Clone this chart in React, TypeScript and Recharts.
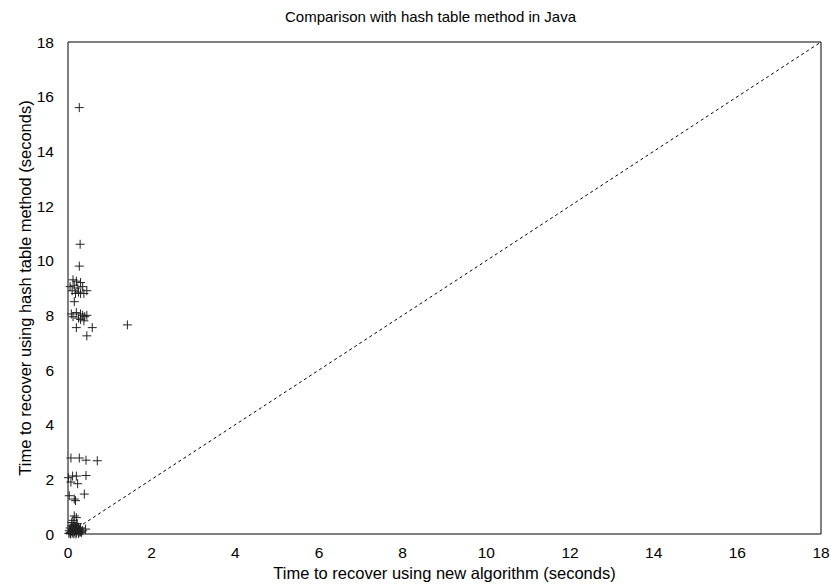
import { ScatterChart, Scatter, XAxis, YAxis, ReferenceLine } from "recharts";

const FONT = "'Liberation Sans', Arial, sans-serif";

const axisTicks = [0, 2, 4, 6, 8, 10, 12, 14, 16, 18];

// y = x reference, drawn dashed
const diagonal = [
  { x: 0, y: 0 },
  { x: 18, y: 18 },
];

// points above 7 seconds on the hash table axis
const upperCluster = [
  { x: 0.27, y: 15.6 }, { x: 0.29, y: 10.6 }, { x: 0.27, y: 9.8 },
  { x: 0.12, y: 9.3 }, { x: 0.2, y: 9.25 }, { x: 0.3, y: 9.2 }, { x: 0.05, y: 9.05 },
  { x: 0.15, y: 9.1 }, { x: 0.22, y: 9.0 }, { x: 0.35, y: 9.05 }, { x: 0.1, y: 8.9 },
  { x: 0.25, y: 8.85 }, { x: 0.3, y: 8.8 }, { x: 0.45, y: 8.9 }, { x: 0.18, y: 8.8 },
  { x: 0.38, y: 8.8 }, { x: 0.15, y: 8.5 },
  { x: 0.08, y: 8.05 }, { x: 0.2, y: 8.1 }, { x: 0.3, y: 8.05 }, { x: 0.35, y: 8.0 },
  { x: 0.12, y: 7.95 }, { x: 0.25, y: 7.9 }, { x: 0.4, y: 7.95 }, { x: 0.45, y: 8.0 },
  { x: 0.3, y: 7.85 }, { x: 0.38, y: 7.8 },
  { x: 0.2, y: 7.55 }, { x: 0.58, y: 7.55 }, { x: 0.45, y: 7.25 }, { x: 1.42, y: 7.65 },
];

// points between 0.5 and 3 seconds
const middleCluster = [
  { x: 0.07, y: 2.78 }, { x: 0.27, y: 2.78 }, { x: 0.43, y: 2.7 }, { x: 0.7, y: 2.68 },
  { x: 0.01, y: 2.06 }, { x: 0.11, y: 2.12 }, { x: 0.2, y: 2.12 }, { x: 0.43, y: 2.14 },
  { x: 0.07, y: 1.9 }, { x: 0.23, y: 1.84 },
  { x: 0.39, y: 1.46 }, { x: 0.03, y: 1.4 }, { x: 0.15, y: 1.28 }, { x: 0.18, y: 1.22 },
  { x: 0.15, y: 0.66 }, { x: 0.2, y: 0.6 }, { x: 0.12, y: 0.5 },
];

// dense group near the origin
const baseCluster = [
  { x: 0.02, y: 0.02 }, { x: 0.05, y: 0.05 }, { x: 0.08, y: 0.1 }, { x: 0.1, y: 0.03 },
  { x: 0.12, y: 0.15 }, { x: 0.15, y: 0.08 }, { x: 0.18, y: 0.2 }, { x: 0.2, y: 0.05 },
  { x: 0.22, y: 0.12 }, { x: 0.25, y: 0.02 }, { x: 0.28, y: 0.18 }, { x: 0.3, y: 0.08 },
  { x: 0.05, y: 0.22 }, { x: 0.08, y: 0.3 }, { x: 0.12, y: 0.28 }, { x: 0.15, y: 0.35 },
  { x: 0.2, y: 0.3 }, { x: 0.25, y: 0.25 }, { x: 0.03, y: 0.12 }, { x: 0.1, y: 0.18 },
  { x: 0.14, y: 0.01 }, { x: 0.17, y: 0.12 }, { x: 0.24, y: 0.15 }, { x: 0.32, y: 0.05 },
  { x: 0.35, y: 0.12 }, { x: 0.42, y: 0.18 }, { x: 0.06, y: 0.0 }, { x: 0.19, y: 0.0 },
  { x: 0.27, y: 0.07 }, { x: 0.11, y: 0.08 }, { x: 0.16, y: 0.24 }, { x: 0.22, y: 0.38 },
  { x: 0.09, y: 0.42 }, { x: 0.13, y: 0.2 }, { x: 0.3, y: 0.22 },
];

const points = [...upperCluster, ...middleCluster, ...baseCluster];

const Plus = (props: any) => {
  const { cx, cy } = props;
  if (cx == null || cy == null) return null;
  return (
    <g stroke="#222" strokeWidth={1}>
      <line x1={cx - 4.5} y1={cy} x2={cx + 4.5} y2={cy} />
      <line x1={cx} y1={cy - 4.5} x2={cx} y2={cy + 4.5} />
    </g>
  );
};

const NoDot = () => <g />;

const tickStyle = { fontSize: 15.5, fill: "#000", fontFamily: FONT };
const labelStyle = { fontSize: 16.5, fill: "#000", fontFamily: FONT };

export default function App() {
  return (
    <div style={{ position: "absolute", left: 0, top: 0, width: 831, height: 587, background: "#fff" }}>
      <div
        style={{
          position: "absolute",
          left: 0,
          top: 8,
          width: 861,
          textAlign: "center",
          fontFamily: FONT,
          fontSize: 15,
          color: "#000",
        }}
      >
        Comparison with hash table method in Java
      </div>
      <ScatterChart width={831} height={587} margin={{ top: 42, right: 10, bottom: 0, left: 0 }}>
        {/* inner tick marks on all four sides, like a gnuplot border */}
        <XAxis xAxisId="bt" orientation="bottom" dataKey="x" type="number" domain={[0, 18]}
          ticks={axisTicks} interval={0} mirror tick={false} tickSize={6} height={1} stroke="#000" />
        <YAxis yAxisId="lt" orientation="left" dataKey="y" type="number" domain={[0, 18]}
          ticks={axisTicks} interval={0} mirror tick={false} tickSize={6} width={1} stroke="#000" />
        <XAxis xAxisId="top" orientation="top" dataKey="x" type="number" domain={[0, 18]}
          ticks={axisTicks} interval={0} mirror tick={false} tickSize={6} height={1} stroke="#000" />
        <YAxis yAxisId="right" orientation="right" dataKey="y" type="number" domain={[0, 18]}
          ticks={axisTicks} interval={0} mirror tick={false} tickSize={6} width={1} stroke="#000" />
        <XAxis
          dataKey="x"
          type="number"
          domain={[0, 18]}
          ticks={axisTicks}
          interval={0}
          tickLine={false}
          axisLine={false}
          tickMargin={7}
          height={53}
          tick={tickStyle}
          label={{
            value: "Time to recover using new algorithm (seconds)",
            position: "insideBottom",
            offset: 8,
            style: labelStyle,
          }}
        />
        <YAxis
          dataKey="y"
          type="number"
          domain={[0, 18]}
          ticks={axisTicks}
          interval={0}
          tickLine={false}
          axisLine={false}
          tickMargin={8}
          width={68}
          tick={tickStyle}
          label={{
            value: "Time to recover using hash table method (seconds)",
            angle: -90,
            position: "insideLeft",
            offset: 25,
            style: { ...labelStyle, textAnchor: "middle" },
          }}
        />
        <ReferenceLine
          segment={diagonal}
          stroke="#000"
          strokeWidth={1}
          strokeDasharray="3 3"
          ifOverflow="visible"
        />
        <Scatter xAxisId="bt" yAxisId="lt" data={diagonal} shape={<NoDot />} isAnimationActive={false} />
        <Scatter xAxisId="top" yAxisId="right" data={diagonal} shape={<NoDot />} isAnimationActive={false} />
        <Scatter data={points} shape={<Plus />} isAnimationActive={false} />
      </ScatterChart>
    </div>
  );
}
